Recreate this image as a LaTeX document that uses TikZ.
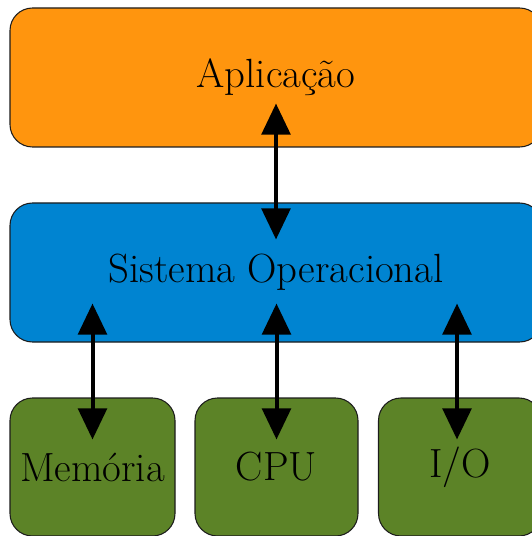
\documentclass[tikz,border=0pt]{standalone}
\usepackage{tikz}
\usetikzlibrary{arrows.meta,positioning,calc}
\definecolor{ap}{HTML}{FF950E}
\definecolor{so}{HTML}{0084D1}
\definecolor{hw}{HTML}{5C8327}
\definecolor{bd}{HTML}{1C1C1C}
\tikzset{
  camada/.style={draw=bd, line width=0.6pt, rounded corners=0.45cm, inner sep=0pt,
    font=\fontsize{23.2}{27}\selectfont},
  duplo/.style={{Triangle[width=0.57cm,length=0.62cm]}-{Triangle[width=0.57cm,length=0.62cm]},
    line width=0.08cm}
}

\begin{document}
\begin{tikzpicture}
  \useasboundingbox (0,0) rectangle (10.62,-10.72);
  \node[camada, fill=ap, minimum width=10.64cm, minimum height=2.78cm] (app) at (5.52,-1.55) {Aplica\c{c}\~ao};
  \node[camada, fill=so, minimum width=10.64cm, minimum height=2.78cm] (sis) at (5.52,-5.45) {Sistema Operacional};
  \node[camada, fill=hw, minimum width=3.3cm, minimum height=2.76cm] (mem) at (1.85,-9.34) {Mem\'oria};
  \node[camada, fill=hw, minimum width=3.26cm, minimum height=2.76cm] (cpu) at (5.53,-9.34) {CPU};
  \node[camada, fill=hw, minimum width=3.26cm, minimum height=2.76cm] (io) at (9.2,-9.34) {I/O};
  \draw[duplo] ([yshift=0.88cm]app.south) -- ([yshift=-0.74cm]sis.north);
  \draw[duplo] ([yshift=0.78cm]sis.south -| mem.north) -- ([yshift=-0.84cm]mem.north);
  \draw[duplo] ([yshift=0.78cm]sis.south -| cpu.north) -- ([yshift=-0.84cm]cpu.north);
  \draw[duplo] ([yshift=0.78cm, xshift=-0.06cm]sis.south -| io.north) -- ([yshift=-0.84cm, xshift=-0.06cm]io.north);
\end{tikzpicture}
\end{document}
